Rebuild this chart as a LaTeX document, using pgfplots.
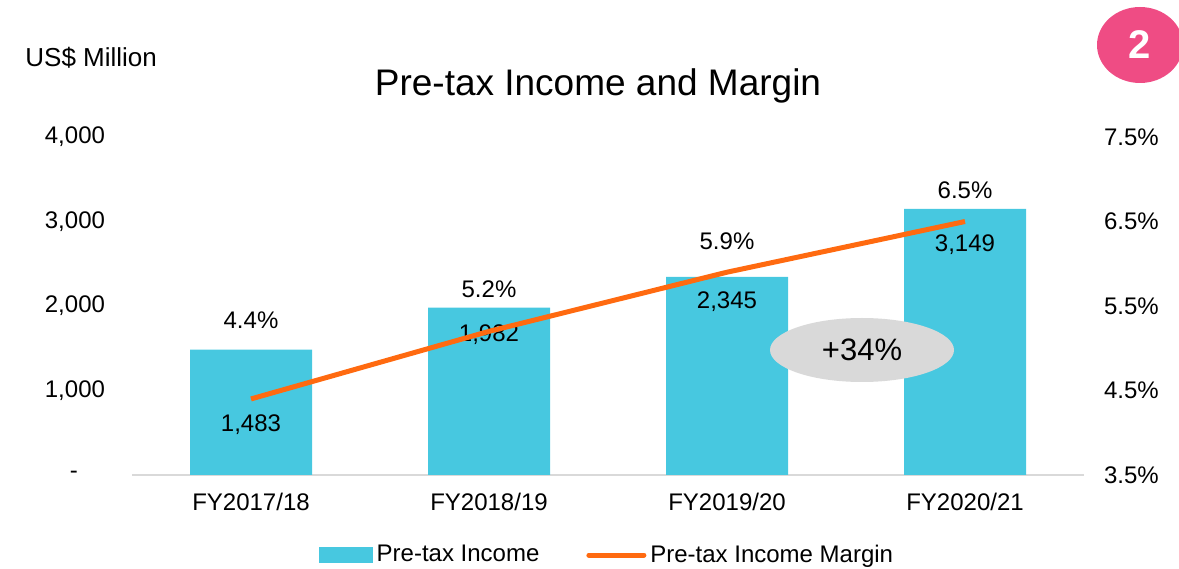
\documentclass[border=0pt]{standalone}
\usepackage{fontspec}
\setmainfont{Liberation Sans}
\usepackage{pgfplots}
\pgfplotsset{compat=1.18}
\definecolor{barc}{HTML}{47C8E0}
\definecolor{linec}{HTML}{FF6A10}
\definecolor{pinkc}{HTML}{EF4C84}
\definecolor{ellc}{HTML}{D9D9D9}
\definecolor{axc}{HTML}{D9D9D9}
\newcommand\fs[1]{\fontsize{#1}{#1}\selectfont}
\begin{document}
\begin{tikzpicture}
\useasboundingbox (0,0) rectangle (589.5bp,284.5bp);
\begin{axis}[
  at={(66bp,47bp)}, anchor=south west, scale only axis, width=476bp, height=169bp,
  xmin=-0.5, xmax=3.5, ymin=0, ymax=4000,
  axis x line*=bottom, axis y line*=left,
  x axis line style={draw=axc, line width=1bp, -},
  y axis line style={draw=none},
  xtick={0,1,2,3}, xticklabels={FY2017/18,FY2018/19,FY2019/20,FY2020/21},
  ytick={0,1000,2000,3000,4000},
  yticklabels={-\rule{13.5bp}{0pt},{1,000},{2,000},{3,000},{4,000}},
  major tick length=0,
  tick label style={font=\fs{12bp}},
  xticklabel style={yshift=-5.5bp},
  yticklabel style={xshift=-10bp},
  ybar, bar width=61bp,
  clip=false,
]
\addplot[fill=barc, draw=none] coordinates {(0,1483) (1,1982) (2,2345) (3,3149)};
\begin{scope}[every node/.style={font=\fs{12bp}}]
\node at (axis cs:0,592) {1,483};
\node at (axis cs:1,1657) {1,982};
\node at (axis cs:2,2047) {2,345};
\node at (axis cs:3,2722) {3,149};
\node at (axis cs:0,1834) {4.4\%};
\node at (axis cs:1,2201) {5.2\%};
\node at (axis cs:2,2769) {5.9\%};
\node at (axis cs:3,3373) {6.5\%};
\end{scope}
\end{axis}
\begin{axis}[
  at={(66bp,47bp)}, anchor=south west, scale only axis, width=476bp, height=169bp,
  xmin=-0.5, xmax=3.5, ymin=3.5, ymax=7.5,
  axis x line=none, axis y line*=right,
  y axis line style={draw=none},
  ytick={3.5,4.5,5.5,6.5,7.5},
  yticklabels={3.5\%,4.5\%,5.5\%,6.5\%,7.5\%},
  major tick length=0,
  tick label style={font=\fs{12bp}},
  yticklabel style={xshift=6.5bp},
  clip=false,
  legend columns=2,
  legend cell align=left,
  legend style={at={(0.5,-0.2367)}, anchor=center, draw=none, fill=none,
    font=\fs{12bp}, /tikz/every even column/.append style={column sep=21.5bp}},
]
\addlegendimage{legend image code/.code={\fill[barc] (0bp,-3.6bp) rectangle (26.5bp,3.6bp);}}
\addlegendentry{Pre-tax Income}
\addplot[linec, line width=2.5bp, mark=none,
  legend image code/.code={\draw[linec, line width=2.5bp, line cap=round] (0bp,0bp) -- (27.5bp,0bp);}]
  coordinates {(0,4.4) (1,5.2) (2,5.9) (3,6.5)};
\addlegendentry{Pre-tax Income Margin}
\end{axis}
\node[font=\fs{18.5bp}] at (299bp,241.5bp) {Pre-tax Income and Margin};
\node[font=\fs{13bp}, anchor=west, inner sep=0] at (12.5bp,255.5bp) {US\$ Million};
\fill[pinkc] (570bp,262bp) ellipse [x radius=21.5bp, y radius=19bp];
\node[font=\fs{20bp}\bfseries, text=white] at (570bp,262bp) {2};
\fill[ellc] (431bp,109.5bp) ellipse [x radius=46bp, y radius=16bp];
\node[font=\fs{15.5bp}] at (431bp,109.5bp) {+34\%};
\end{tikzpicture}
\end{document}
